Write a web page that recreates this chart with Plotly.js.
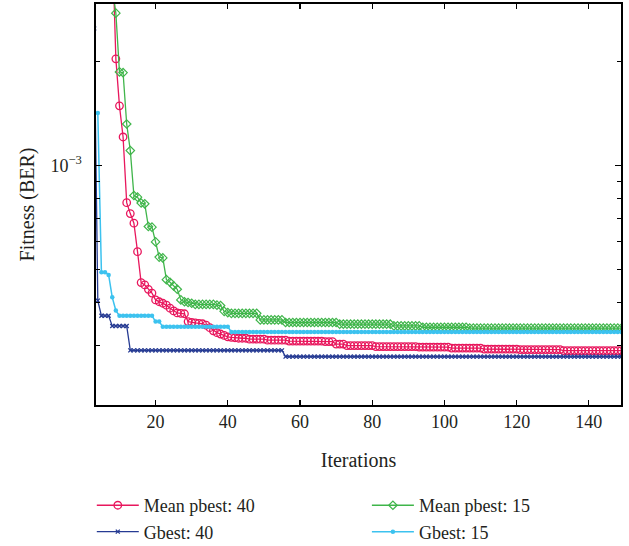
<!DOCTYPE html>
<html>
<head>
<meta charset="utf-8">
<script src="https://cdn.plot.ly/plotly-3.0.1.min.js"></script>
<style>html,body{margin:0;padding:0;background:#fff;}#chart{width:629px;height:546px;}</style>
</head>
<body>
<div id="chart"></div>
<script>
// Iterations 3..150
const iterations = [
  3,4,5,6,7,8,9,10,
  11,12,13,14,15,16,17,18,19,20,
  21,22,23,24,25,26,27,28,29,30,
  31,32,33,34,35,36,37,38,39,40,
  41,42,43,44,45,46,47,48,49,50,
  51,52,53,54,55,56,57,58,59,60,
  61,62,63,64,65,66,67,68,69,70,
  71,72,73,74,75,76,77,78,79,80,
  81,82,83,84,85,86,87,88,89,90,
  91,92,93,94,95,96,97,98,99,100,
  101,102,103,104,105,106,107,108,109,110,
  111,112,113,114,115,116,117,118,119,120,
  121,122,123,124,125,126,127,128,129,130,
  131,132,133,134,135,136,137,138,139,140,
  141,142,143,144,145,146,147,148,149,150
];

const meanPbest40 = [
  9.0e-3,7.8e-3,6.8e-3,5.9e-3,5.2e-3,4.5e-3,2.04e-3,1.49e-3,
  1.21e-3,7.8e-4,7.25e-4,6.8e-4,5.62e-4,4.57e-4,4.5e-4,4.37e-4,4.26e-4,4.07e-4,
  4.02e-4,3.98e-4,3.93e-4,3.85e-4,3.78e-4,3.73e-4,3.72e-4,3.71e-4,3.52e-4,3.5e-4,
  3.49e-4,3.48e-4,3.47e-4,3.44e-4,3.38e-4,3.31e-4,3.27e-4,3.24e-4,3.21e-4,3.18e-4,
  3.17e-4,3.16e-4,3.15e-4,3.15e-4,3.15e-4,3.13e-4,3.13e-4,3.13e-4,3.13e-4,3.13e-4,
  3.11e-4,3.11e-4,3.11e-4,3.11e-4,3.11e-4,3.11e-4,3.09e-4,3.09e-4,3.09e-4,3.09e-4,
  3.09e-4,3.09e-4,3.09e-4,3.09e-4,3.09e-4,3.09e-4,3.08e-4,3.08e-4,3.08e-4,3.03e-4,
  3.03e-4,3.03e-4,3.0e-4,3.0e-4,3.0e-4,3.0e-4,3.0e-4,3.0e-4,3.0e-4,3.0e-4,
  2.98e-4,2.98e-4,2.98e-4,2.98e-4,2.98e-4,2.98e-4,2.98e-4,2.98e-4,2.98e-4,2.98e-4,
  2.98e-4,2.98e-4,2.97e-4,2.97e-4,2.97e-4,2.97e-4,2.97e-4,2.97e-4,2.97e-4,2.97e-4,
  2.97e-4,2.95e-4,2.95e-4,2.95e-4,2.95e-4,2.95e-4,2.95e-4,2.95e-4,2.95e-4,2.95e-4,
  2.93e-4,2.93e-4,2.93e-4,2.93e-4,2.93e-4,2.93e-4,2.93e-4,2.93e-4,2.93e-4,2.93e-4,
  2.92e-4,2.92e-4,2.92e-4,2.92e-4,2.92e-4,2.92e-4,2.92e-4,2.92e-4,2.92e-4,2.92e-4,
  2.92e-4,2.92e-4,2.9e-4,2.9e-4,2.9e-4,2.9e-4,2.9e-4,2.9e-4,2.9e-4,2.9e-4,
  2.9e-4,2.9e-4,2.9e-4,2.9e-4,2.9e-4,2.9e-4,2.9e-4,2.9e-4,2.9e-4,2.9e-4
];

const meanPbest15 = [
  8.0e-3,7.0e-3,6.0e-3,5.0e-3,4.2e-3,3.3e-3,2.77e-3,1.87e-3,
  1.86e-3,1.32e-3,1.105e-3,8.18e-4,8.09e-4,7.78e-4,7.74e-4,6.65e-4,6.62e-4,6.0e-4,
  5.42e-4,5.39e-4,4.66e-4,4.58e-4,4.47e-4,4.37e-4,4.07e-4,4.02e-4,4.0e-4,3.98e-4,
  3.95e-4,3.95e-4,3.95e-4,3.95e-4,3.95e-4,3.95e-4,3.93e-4,3.92e-4,3.77e-4,3.74e-4,
  3.72e-4,3.72e-4,3.72e-4,3.72e-4,3.72e-4,3.72e-4,3.72e-4,3.72e-4,3.56e-4,3.56e-4,
  3.56e-4,3.56e-4,3.56e-4,3.56e-4,3.56e-4,3.5e-4,3.5e-4,3.5e-4,3.5e-4,3.5e-4,
  3.5e-4,3.5e-4,3.5e-4,3.5e-4,3.5e-4,3.5e-4,3.5e-4,3.5e-4,3.5e-4,3.5e-4,
  3.46e-4,3.46e-4,3.46e-4,3.46e-4,3.46e-4,3.46e-4,3.46e-4,3.46e-4,3.46e-4,3.46e-4,
  3.46e-4,3.46e-4,3.46e-4,3.46e-4,3.46e-4,3.42e-4,3.42e-4,3.42e-4,3.42e-4,3.42e-4,
  3.42e-4,3.42e-4,3.42e-4,3.39e-4,3.39e-4,3.39e-4,3.39e-4,3.39e-4,3.39e-4,3.39e-4,
  3.39e-4,3.39e-4,3.39e-4,3.39e-4,3.39e-4,3.39e-4,3.37e-4,3.37e-4,3.37e-4,3.37e-4,
  3.37e-4,3.37e-4,3.37e-4,3.37e-4,3.37e-4,3.37e-4,3.37e-4,3.37e-4,3.37e-4,3.37e-4,
  3.37e-4,3.37e-4,3.37e-4,3.37e-4,3.37e-4,3.37e-4,3.37e-4,3.37e-4,3.37e-4,3.37e-4,
  3.37e-4,3.37e-4,3.37e-4,3.37e-4,3.37e-4,3.37e-4,3.37e-4,3.37e-4,3.37e-4,3.37e-4,
  3.37e-4,3.37e-4,3.37e-4,3.37e-4,3.37e-4,3.37e-4,3.37e-4,3.37e-4,3.37e-4,3.37e-4
];

const gbest40 = [
  2.5e-3,4.05e-4,3.66e-4,3.66e-4,3.66e-4,3.42e-4,3.42e-4,3.42e-4,
  3.42e-4,3.42e-4,2.905e-4,2.905e-4,2.905e-4,2.905e-4,2.905e-4,2.905e-4,2.905e-4,2.905e-4,
  2.905e-4,2.905e-4,2.905e-4,2.905e-4,2.905e-4,2.905e-4,2.905e-4,2.905e-4,2.905e-4,2.905e-4,
  2.905e-4,2.905e-4,2.905e-4,2.905e-4,2.905e-4,2.905e-4,2.905e-4,2.905e-4,2.905e-4,2.905e-4,
  2.905e-4,2.905e-4,2.905e-4,2.905e-4,2.905e-4,2.905e-4,2.905e-4,2.905e-4,2.905e-4,2.905e-4,
  2.905e-4,2.905e-4,2.905e-4,2.905e-4,2.905e-4,2.786e-4,2.786e-4,2.786e-4,2.786e-4,2.786e-4,
  2.786e-4,2.786e-4,2.786e-4,2.786e-4,2.786e-4,2.786e-4,2.786e-4,2.786e-4,2.786e-4,2.786e-4,
  2.786e-4,2.786e-4,2.786e-4,2.786e-4,2.786e-4,2.786e-4,2.786e-4,2.786e-4,2.786e-4,2.786e-4,
  2.786e-4,2.786e-4,2.786e-4,2.786e-4,2.786e-4,2.786e-4,2.786e-4,2.786e-4,2.786e-4,2.786e-4,
  2.786e-4,2.786e-4,2.786e-4,2.786e-4,2.786e-4,2.786e-4,2.786e-4,2.786e-4,2.786e-4,2.786e-4,
  2.786e-4,2.786e-4,2.786e-4,2.786e-4,2.786e-4,2.786e-4,2.786e-4,2.786e-4,2.786e-4,2.786e-4,
  2.786e-4,2.786e-4,2.786e-4,2.786e-4,2.786e-4,2.786e-4,2.786e-4,2.786e-4,2.786e-4,2.786e-4,
  2.786e-4,2.786e-4,2.786e-4,2.786e-4,2.786e-4,2.786e-4,2.786e-4,2.786e-4,2.786e-4,2.786e-4,
  2.786e-4,2.786e-4,2.786e-4,2.786e-4,2.786e-4,2.786e-4,2.786e-4,2.786e-4,2.786e-4,2.786e-4,
  2.786e-4,2.786e-4,2.786e-4,2.786e-4,2.786e-4,2.786e-4,2.786e-4,2.786e-4,2.786e-4,2.786e-4
];

const gbest15 = [
  1.42e-3,1.42e-3,4.9e-4,4.9e-4,4.81e-4,4.14e-4,3.79e-4,3.66e-4,
  3.66e-4,3.66e-4,3.66e-4,3.66e-4,3.66e-4,3.66e-4,3.66e-4,3.66e-4,3.66e-4,3.52e-4,
  3.52e-4,3.4e-4,3.4e-4,3.4e-4,3.4e-4,3.4e-4,3.4e-4,3.4e-4,3.4e-4,3.4e-4,
  3.4e-4,3.4e-4,3.4e-4,3.4e-4,3.4e-4,3.4e-4,3.4e-4,3.4e-4,3.4e-4,3.4e-4,
  3.285e-4,3.285e-4,3.285e-4,3.285e-4,3.285e-4,3.285e-4,3.285e-4,3.285e-4,3.285e-4,3.285e-4,
  3.285e-4,3.285e-4,3.285e-4,3.285e-4,3.285e-4,3.285e-4,3.285e-4,3.285e-4,3.285e-4,3.285e-4,
  3.285e-4,3.285e-4,3.285e-4,3.285e-4,3.285e-4,3.285e-4,3.285e-4,3.285e-4,3.285e-4,3.285e-4,
  3.285e-4,3.285e-4,3.285e-4,3.285e-4,3.285e-4,3.285e-4,3.285e-4,3.285e-4,3.285e-4,3.285e-4,
  3.285e-4,3.285e-4,3.285e-4,3.285e-4,3.285e-4,3.285e-4,3.285e-4,3.285e-4,3.285e-4,3.285e-4,
  3.285e-4,3.285e-4,3.285e-4,3.285e-4,3.285e-4,3.285e-4,3.285e-4,3.285e-4,3.285e-4,3.285e-4,
  3.285e-4,3.285e-4,3.285e-4,3.285e-4,3.285e-4,3.285e-4,3.285e-4,3.285e-4,3.285e-4,3.285e-4,
  3.285e-4,3.285e-4,3.285e-4,3.285e-4,3.285e-4,3.285e-4,3.285e-4,3.285e-4,3.285e-4,3.285e-4,
  3.285e-4,3.285e-4,3.285e-4,3.285e-4,3.285e-4,3.285e-4,3.285e-4,3.285e-4,3.285e-4,3.285e-4,
  3.285e-4,3.285e-4,3.285e-4,3.285e-4,3.285e-4,3.285e-4,3.285e-4,3.285e-4,3.285e-4,3.285e-4,
  3.285e-4,3.285e-4,3.285e-4,3.285e-4,3.285e-4,3.285e-4,3.285e-4,3.285e-4,3.285e-4,3.285e-4
];

const seriesNames = ['Mean pbest: 40', 'Mean pbest: 15', 'Gbest: 40', 'Gbest: 15'];
const xTickVals = [20, 40, 60, 80, 100, 120, 140];
const yMajorVals = [1e-3];
const yMajorText = ['10<sup>\u22123</sup>'];
const yMinorVals = [3e-4, 4e-4, 5e-4, 6e-4, 7e-4, 8e-4, 9e-4, 2e-3];

const FONT = 'Liberation Serif, Times New Roman, serif';
const INK = '#231f20';
const RED = '#e8175d', GREEN = '#3fb54a', BLUE = '#263b93', CYAN = '#3cc2ef';

const traces = [
  {x: iterations, y: meanPbest40, name: seriesNames[0], legend: 'legend', type: 'scatter', mode: 'lines+markers',
   line: {color: RED, width: 1.3},
   marker: {symbol: 'circle-open', size: 7.5, color: RED, line: {width: 1.3, color: RED}}},
  {x: iterations, y: meanPbest15, name: seriesNames[1], legend: 'legend2', type: 'scatter', mode: 'lines+markers',
   line: {color: GREEN, width: 1.3},
   marker: {symbol: 'diamond-open', size: 6.5, color: GREEN, line: {width: 1.2, color: GREEN}}},
  {x: iterations, y: gbest40, name: seriesNames[2], legend: 'legend', type: 'scatter', mode: 'lines+markers',
   line: {color: BLUE, width: 1.3},
   marker: {symbol: 'x-thin', size: 4, color: BLUE, line: {width: 1.3, color: BLUE}}},
  {x: iterations, y: gbest15, name: seriesNames[3], legend: 'legend2', type: 'scatter', mode: 'lines+markers',
   line: {color: CYAN, width: 1.5},
   marker: {symbol: 'circle', size: 4.5, color: CYAN}}
];

const legendBase = {
  orientation: 'v', xanchor: 'left', yref: 'container', y: 0.108, yanchor: 'top',
  font: {family: FONT, size: 18, color: INK}, itemwidth: 42,
  tracegroupgap: 0, bgcolor: 'rgba(0,0,0,0)', borderwidth: 0
};

const layout = {
  width: 629, height: 546,
  margin: {l: 96, r: 8, t: 4, b: 141},
  paper_bgcolor: '#ffffff', plot_bgcolor: '#ffffff',
  font: {family: FONT, color: INK, size: 18},
  showlegend: true,
  legend: Object.assign({}, legendBase, {x: -0.008}),
  legend2: Object.assign({}, legendBase, {x: 0.516}),
  xaxis: {
    range: [3.5, 148.9], tickvals: xTickVals,
    ticks: 'inside', ticklen: 5, tickwidth: 1.2, tickcolor: '#000',
    showline: true, linecolor: '#000', linewidth: 1.6, mirror: 'ticks',
    showgrid: false, zeroline: false,
    tickfont: {family: FONT, size: 18, color: INK},
    title: {text: 'Iterations', font: {family: FONT, size: 20, color: INK}, standoff: 22}
  },
  yaxis: {
    type: 'log', range: [-3.6956, -2.531],
    tickmode: 'array', tickvals: yMajorVals, ticktext: yMajorText,
    ticks: 'inside', ticklen: 6, tickwidth: 1.2, tickcolor: '#000',
    ticklabelstandoff: 9,
    minor: {tickmode: 'array', tickvals: yMinorVals, ticks: 'inside', ticklen: 4, tickwidth: 1.1, tickcolor: '#000', showgrid: false},
    showline: true, linecolor: '#000', linewidth: 1.6, mirror: 'ticks',
    showgrid: false, zeroline: false,
    tickfont: {family: FONT, size: 18, color: INK},
    title: {text: 'Fitness (BER)', font: {family: FONT, size: 20, color: INK}, standoff: 10}
  }
};

Plotly.newPlot('chart', traces, layout, {staticPlot: true, displayModeBar: false});
</script>
</body>
</html>
